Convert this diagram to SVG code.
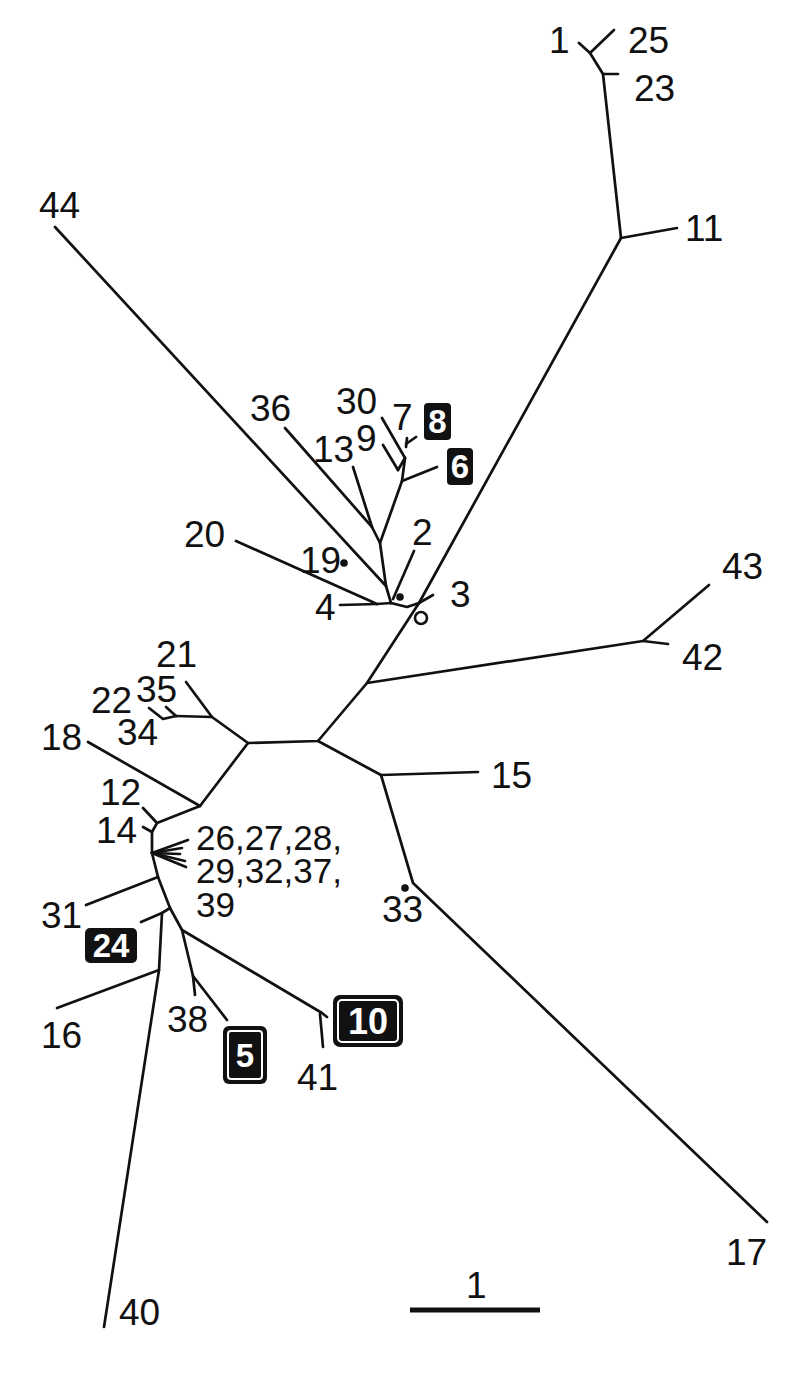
<svg xmlns="http://www.w3.org/2000/svg" width="800" height="1377" viewBox="0 0 800 1377">
<style>
.e{fill:none;stroke:#111;stroke-width:2.7;stroke-linecap:round;stroke-linejoin:round}
.t{font-family:"Liberation Sans",Arial,sans-serif;font-size:37px;fill:#111}
.s{font-size:35px}
.b{font-family:"Liberation Sans",Arial,sans-serif;font-weight:bold;fill:#fff;text-anchor:middle}
.bx{fill:#111}
.in{fill:none;stroke:#fff;stroke-width:2}
</style>
<rect width="800" height="1377" fill="#fff"/>
<g id="connectors" class="e">
<polyline points="579,43 590,53 603,74 621,238 419,603"/>
<line x1="590" y1="53" x2="614" y2="30"/>
<line x1="603" y1="74" x2="618" y2="74"/>
<line x1="621" y1="238" x2="677" y2="228"/>
<line x1="419" y1="603" x2="433" y2="595"/>
<polyline points="340,605 377,604 391,603 407,607 419,603"/>
<line x1="236" y1="541" x2="377" y2="604"/>
<polyline points="55,227 386,586 391,603"/>
<line x1="414" y1="551" x2="393" y2="599"/>
<polyline points="386,586 380,543 402,481 405,458 382,418"/>
<polyline points="380,543 372,527 285,428"/>
<line x1="372" y1="527" x2="353" y2="467"/>
<line x1="402" y1="481" x2="437" y2="467"/>
<line x1="405" y1="458" x2="398" y2="470"/>
<line x1="398" y1="470" x2="383" y2="445"/>
<line x1="406" y1="447" x2="407" y2="438"/>
<line x1="406" y1="444" x2="416" y2="437"/>
<polyline points="419,603 367,683 318,741 248,743 200,806 157,823 152,832 152,853 158,877 170,908 182,930 322,1013 327,1017"/>
<polyline points="367,683 643,641 709,585"/>
<line x1="643" y1="641" x2="668" y2="644"/>
<polyline points="318,741 381,775 413,883 767,1222"/>
<line x1="381" y1="775" x2="478" y2="772"/>
<polyline points="248,743 212,717 186,682"/>
<line x1="212" y1="717" x2="176" y2="716"/>
<line x1="176" y1="716" x2="166" y2="707"/>
<polyline points="176,716 163,719 149,708"/>
<line x1="88" y1="742" x2="200" y2="806"/>
<line x1="157" y1="823" x2="143" y2="808"/>
<line x1="152" y1="832" x2="143" y2="827"/>
<line x1="152" y1="853" x2="188" y2="840"/>
<line x1="152" y1="853" x2="182" y2="848"/>
<line x1="152" y1="853" x2="180" y2="854"/>
<line x1="152" y1="853" x2="185" y2="861"/>
<line x1="152" y1="853" x2="186" y2="867"/>
<line x1="158" y1="877" x2="86" y2="905"/>
<polyline points="170,908 162,913 159,970 104,1327"/>
<line x1="162" y1="913" x2="141" y2="922"/>
<line x1="159" y1="970" x2="57" y2="1008"/>
<polyline points="182,930 193,976 195,995"/>
<line x1="193" y1="976" x2="227" y2="1020"/>
<line x1="320" y1="1014" x2="323" y2="1047"/>
</g>
<g id="marks">
<circle cx="344" cy="563" r="3.8" fill="#111"/>
<circle cx="400" cy="597" r="3.8" fill="#111"/>
<circle cx="405" cy="888" r="3.8" fill="#111"/>
<circle cx="421" cy="618" r="6" fill="none" stroke="#111" stroke-width="2.6"/>
</g>
<g id="labels" class="t">
<text x="549" y="53">1</text>
<text x="628" y="53">25</text>
<text x="634" y="101">23</text>
<text x="685" y="241">11</text>
<text x="39" y="218">44</text>
<text x="250" y="421">36</text>
<text x="336" y="414">30</text>
<text x="392" y="430">7</text>
<text x="313" y="462">13</text>
<text x="356" y="451">9</text>
<text x="412" y="545">2</text>
<text x="184" y="547">20</text>
<text x="300" y="573">19</text>
<text x="315" y="620">4</text>
<text x="450" y="607">3</text>
<text x="722" y="579">43</text>
<text x="682" y="670">42</text>
<text x="156" y="667">21</text>
<text x="136" y="702">35</text>
<text x="91" y="713">22</text>
<text x="117" y="745">34</text>
<text x="41" y="750">18</text>
<text x="100" y="805">12</text>
<text x="96" y="843">14</text>
<text class="s" x="196" y="850">26,27,28,</text>
<text class="s" x="196" y="883">29,32,37,</text>
<text class="s" x="196" y="917">39</text>
<text x="41" y="928">31</text>
<text x="491" y="788">15</text>
<text x="382" y="922">33</text>
<text x="41" y="1048">16</text>
<text x="167" y="1032">38</text>
<text x="297" y="1090">41</text>
<text x="726" y="1265">17</text>
<text x="119" y="1325">40</text>
</g>
<g id="box8"><rect class="bx" x="424" y="403" width="27" height="37" rx="4"/><text class="b" font-size="33" x="437.5" y="433">8</text></g>
<g id="box6"><rect class="bx" x="447" y="448" width="26" height="37" rx="4"/><text class="b" font-size="33" x="460" y="478">6</text></g>
<g id="box24"><rect class="bx" x="85" y="928" width="52" height="35" rx="5"/><text class="b" font-size="33" x="111" y="957">24</text></g>
<g id="box5"><rect class="bx" x="223" y="1026" width="44" height="58" rx="6"/><rect class="in" x="228" y="1031" width="34" height="48" rx="3"/><text class="b" font-size="33" x="245" y="1067">5</text></g>
<g id="box10"><rect class="bx" x="333" y="995" width="70" height="52" rx="7"/><rect class="in" x="338" y="1000" width="60" height="42" rx="4"/><text class="b" font-size="36" x="368" y="1034">10</text></g>
<g id="scale">
<line x1="410" y1="1310" x2="540" y2="1310" stroke="#111" stroke-width="5"/>
<text class="t" x="466" y="1298">1</text>
</g>
</svg>
